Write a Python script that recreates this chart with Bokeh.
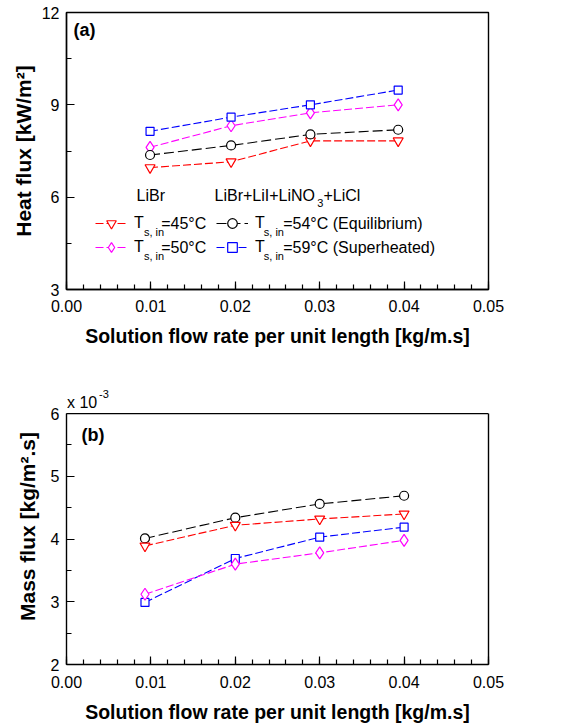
from bokeh.plotting import figure
from bokeh.layouts import column
from bokeh.models import (FixedTicker, NumeralTickFormatter, Label, Legend,
                          LegendItem, Range1d, LinearAxis, Span)
from bokeh.embed import file_html
from bokeh.resources import INLINE

# ---------------- data ----------------
flow_a = [0.0099, 0.0195, 0.0289, 0.0393]
heat_45 = [6.96, 7.15, 7.83, 7.83]
heat_50 = [7.62, 8.32, 8.74, 9.00]
heat_54 = [7.37, 7.68, 8.04, 8.19]
heat_59 = [8.14, 8.60, 9.00, 9.48]

flow_b = [0.0093, 0.0200, 0.0300, 0.0400]
mass_45 = [3.89, 4.22, 4.32, 4.40]   # x 10^-3
mass_50 = [3.12, 3.60, 3.78, 3.98]
mass_54 = [4.01, 4.34, 4.56, 4.69]
mass_59 = [2.99, 3.69, 4.03, 4.19]

x_ticks = [0.0, 0.01, 0.02, 0.03, 0.04, 0.05]
x_minor = [i * 0.002 for i in range(26)]
ya_ticks = [3, 6, 9, 12]
ya_minor = [4.5, 7.5, 10.5]
yb_ticks = [2, 3, 4, 5, 6]
yb_minor = [2.5, 3.5, 4.5, 5.5]

FONT = "Liberation Sans"
RED, MAG, BLK, BLU = "#ff0000", "#ff00ff", "#000000", "#0000ff"
LW = 1.4


def make_fig(height, y_rng, bl, br, bt, bb, y_ticks, y_minor, ylabel,
             ylab_standoff, xlab_standoff):
    p = figure(width=570, height=height, x_range=Range1d(0, 0.05),
               y_range=Range1d(*y_rng), output_backend="svg",
               toolbar_location=None, min_border_left=bl,
               min_border_right=br, min_border_top=bt, min_border_bottom=bb)
    p.grid.visible = False
    p.outline_line_color = "black"
    p.outline_line_width = LW
    p.background_fill_color = "white"
    p.border_fill_color = "white"
    p.xaxis.ticker = FixedTicker(ticks=x_ticks, minor_ticks=x_minor)
    p.xaxis.formatter = NumeralTickFormatter(format="0.00")
    p.yaxis.ticker = FixedTicker(ticks=y_ticks, minor_ticks=y_minor)
    p.xaxis.axis_label = "Solution flow rate per unit length [kg/m.s]"
    p.yaxis.axis_label = ylabel
    for ax in (p.xaxis[0], p.yaxis[0]):
        ax.major_tick_in = 8
        ax.major_tick_out = 0
        ax.minor_tick_in = 5
        ax.minor_tick_out = 0
        ax.axis_line_color = "black"
        ax.axis_line_width = LW
        ax.major_tick_line_width = 1.2
        ax.minor_tick_line_width = 1.2
        ax.major_label_text_font = FONT
        ax.major_label_text_font_size = "16px"
        ax.major_label_text_color = "black"
        ax.axis_label_text_font = FONT
        ax.axis_label_text_font_style = "bold"
        ax.axis_label_text_color = "black"
    p.xaxis.axis_label_text_font_size = "19.5px"
    p.yaxis.axis_label_text_font_size = "21px"
    p.xaxis.major_label_standoff = xlab_standoff
    p.xaxis.axis_label_standoff = 10
    p.yaxis.major_label_standoff = 7
    p.yaxis.axis_label_standoff = ylab_standoff
    return p


def lab(p, text, x, y, size="16px", bold=False):
    p.add_layout(Label(x=x, y=y, x_units="screen", y_units="screen",
                       text=text, text_font=FONT, text_font_size=size,
                       text_font_style="bold" if bold else "normal",
                       text_baseline="middle", text_align="left",
                       text_color="black"))


def draw(p, xs, ys, color, marker, size, dash):
    rl = p.line(xs, ys, line_color=color, line_width=1.1, line_dash=dash)
    rs = p.scatter(xs, ys, marker=marker, size=size, line_color=color,
                   fill_color="white", line_width=1.2)
    return [rl, rs]


# ---------------- panel (a) ----------------
pa = make_fig(352, (3, 12), 66, 77, 12, 63, ya_ticks, ya_minor,
              "Heat flux [kW/m\u00b2]", 4, 10)
r45 = draw(pa, flow_a, heat_45, RED, "inverted_triangle", 10, "8 3")
r50 = draw(pa, flow_a, heat_50, MAG, "diamond", 12, "8 3")
r54 = draw(pa, flow_a, heat_54, BLK, "circle", 9, "10 4")
r59 = draw(pa, flow_a, heat_59, BLU, "square", 8, "8 3")

for items, loc in (([LegendItem(label="T", renderers=r45),
                     LegendItem(label="T", renderers=r50)], (29, 30)),
                   ([LegendItem(label="T", renderers=r54),
                     LegendItem(label="T", renderers=r59)], (150, 30))):
    leg = Legend(items=items, location=loc, orientation="vertical",
                 padding=0, margin=0, spacing=0, glyph_width=32,
                 glyph_height=24, label_height=24, label_standoff=7,
                 label_text_font=FONT, label_text_font_size="16px",
                 label_text_color="black", border_line_alpha=0,
                 background_fill_alpha=0)
    pa.add_layout(leg, "center")

for y, left_txt, right_txt in ((66, "=45\u00b0C", "=54\u00b0C (Equilibrium)"),
                               (42, "=50\u00b0C", "=59\u00b0C (Superheated)")):
    lab(pa, "s, in", 77.5, y - 8, "11px")
    lab(pa, left_txt, 94.7, y)
    lab(pa, "s, in", 197.3, y - 8, "11px")
    lab(pa, right_txt, 216.7, y)

lab(pa, "LiBr", 70, 94)
lab(pa, "LiBr+LiI+LiNO", 148, 94)
lab(pa, "3", 250.7, 86.5, "11px")
lab(pa, "+LiCl", 257, 94)
lab(pa, "(a)", 7, 260, "18px", bold=True)

# ---------------- panel (b) ----------------
# frame extends a little above the box (y = 6) to hold the "x 10^-3" note
pb = make_fig(373, (2, 6.4), 57, 82, 36, 61, yb_ticks, yb_minor,
              "Mass flux [kg/m\u00b2.s]", 9, 11)
pb.outline_line_color = None
pb.yaxis.bounds = (2, 6)
right_ax = LinearAxis(bounds=(2, 6), ticker=FixedTicker(ticks=[]),
                      major_tick_in=0, major_tick_out=0, minor_tick_in=0,
                      minor_tick_out=0, major_label_text_font_size="0px",
                      axis_line_color="black", axis_line_width=LW)
pb.add_layout(right_ax, "right")
pb.add_layout(Span(location=6, dimension="width", line_color="black",
                   line_width=LW))

draw(pb, flow_b, mass_54, BLK, "circle", 9, "10 4")
draw(pb, flow_b, mass_45, RED, "inverted_triangle", 10, "8 3")
draw(pb, flow_b, mass_59, BLU, "square", 8, "8 3")
draw(pb, flow_b, mass_50, MAG, "diamond", 12, "8 3")

lab(pb, "x 10", 0.5, 262.3)
lab(pb, "-3", 32.5, 271, "11px")
lab(pb, "(b)", 15, 229.3, "18px", bold=True)

layout = column(pa, pb, spacing=0)
open("out.html", "w").write(file_html(layout, INLINE))
